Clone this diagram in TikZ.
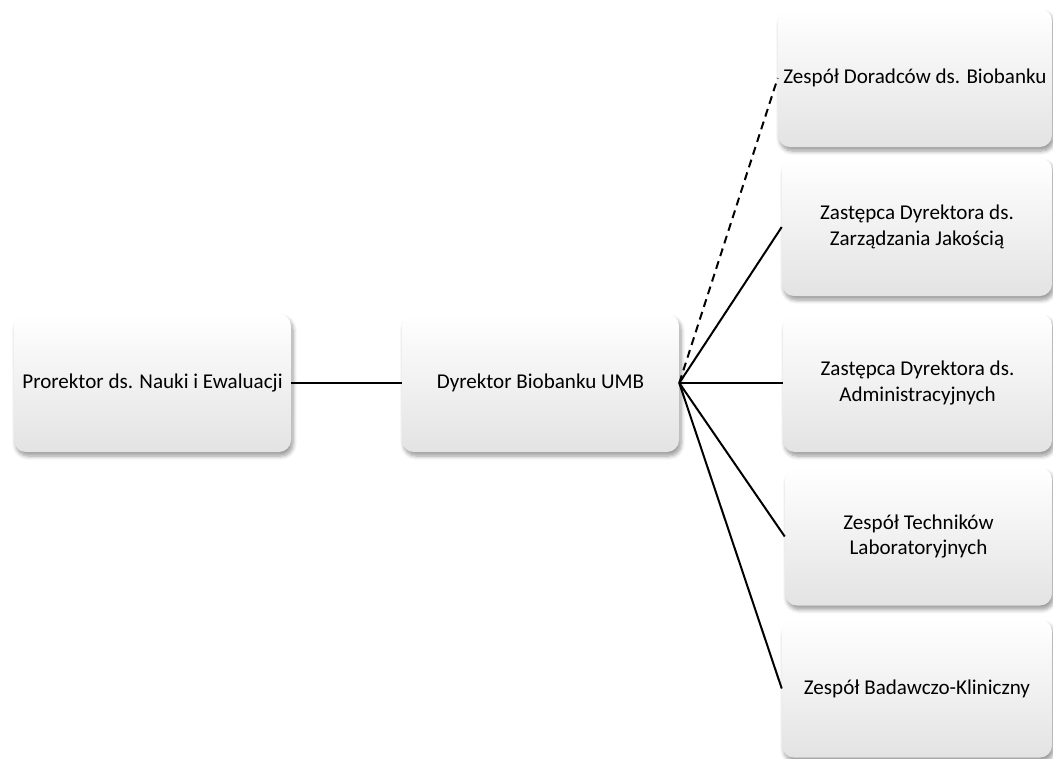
\documentclass[tikz,border=0pt]{standalone}
\usepackage{fontspec}
\setmainfont{Carlito}
\usepackage{tikz}
\usetikzlibrary{shadows.blur}

\tikzset{
	unitbox/.style={rectangle, rounded corners=9pt, draw=none,
		top color=white, middle color=white, bottom color=black!11,
		blur shadow={shadow xshift=1.5pt, shadow yshift=-3pt, shadow blur radius=3pt, shadow blur steps=6, shadow opacity=40},
		minimum height=103.5pt, align=center, inner sep=1pt,
		font=\fontsize{15.8}{19}\selectfont},
	link/.style={line width=1.5pt}
}

\begin{document}
\begin{tikzpicture}[x=0.75pt, y=0.75pt]
			\useasboundingbox (0, 0) rectangle (1053, -758);
			
			% Left side
			\node[unitbox, minimum width=207.75pt] (prorektor) at (152.5, -383) {Prorektor ds. Nauki i Ewaluacji};
			\node[unitbox, minimum width=207.75pt] (dyrektor) at (540.5, -383) {Dyrektor Biobanku UMB};
			
			% Right column
			\node[unitbox, minimum width=205.5pt] (doradcy) at (915, -78) {Zespół Doradców ds. Biobanku};
			\node[unitbox, minimum width=202.5pt] (jakosc) at (917, -227) {Zastępca Dyrektora ds.\\Zarządzania Jakością};
			\node[unitbox, minimum width=201.75pt] (admin) at (917.5, -383) {Zastępca Dyrektora ds.\\Administracyjnych};
			\node[unitbox, minimum width=200.25pt] (technicy) at (918.5, -536.5) {Zespół Techników\\Laboratoryjnych};
			\node[unitbox, minimum width=202.5pt] (klinika) at (917, -688.5) {Zespół Badawczo-Kliniczny};
			
			% Connectors
			\draw[link] (prorektor.east) -- (dyrektor.west);
			\draw[link, dashed, dash pattern=on 6pt off 4pt] (dyrektor.east) -- (doradcy.west);
			\draw[link] (dyrektor.east) -- (jakosc.west);
			\draw[link] (dyrektor.east) -- (admin.west);
			\draw[link] (dyrektor.east) -- (technicy.west);
			\draw[link] (dyrektor.east) -- (klinika.west);
			
		\end{tikzpicture}
\end{document}
